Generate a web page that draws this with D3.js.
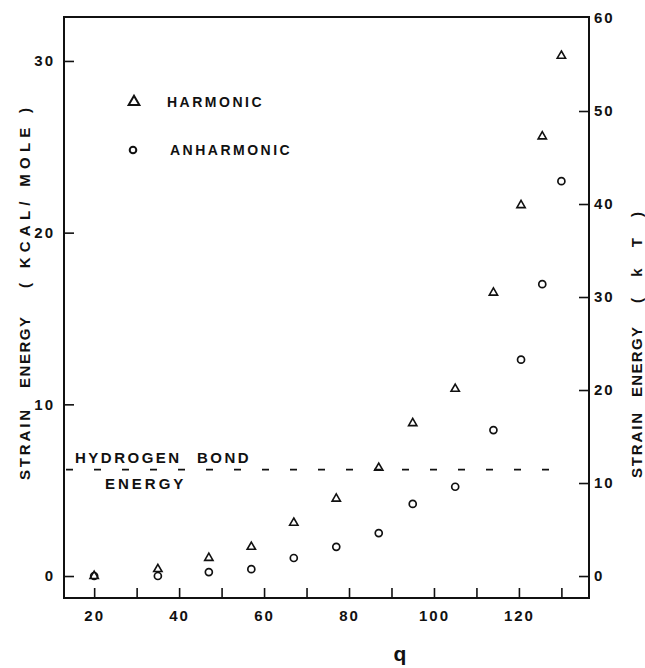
<!DOCTYPE html>
<html>
<head>
<meta charset="utf-8">
<script src="https://cdn.jsdelivr.net/npm/d3@7"></script>
<style>
    body{margin:0;background:#fff;}
    text{font-family:"Liberation Sans",Arial,sans-serif;font-weight:bold;fill:#111;}
</style>
</head>
<body>
<div id="chart"></div>
<script>
// values
const qValues = [20, 35, 47, 57, 67, 77, 87, 95, 105, 114, 120.5, 125.5, 130];
const harmonicEnergy = [0, 0.4, 1.05, 1.7, 3.1, 4.5, 6.3, 8.9, 10.9, 16.5, 21.6, 25.6, 30.3];
const anharmonicEnergy = [0, 0, 0.23, 0.4, 1.05, 1.7, 2.5, 4.2, 5.2, 8.5, 12.6, 17.0, 23.0];
const leftTicks = [0, 10, 20, 30];
const rightTicks = [0, 10, 20, 30, 40, 50, 60];
const bottomTicks = [20, 30, 40, 50, 60, 70, 80, 90, 100, 110, 120, 130];
const hbondEnergy = 6.2;
const hbondEnd = 128.5;

const width = 645, height = 668;
const margin = {top: 17, right: 56, bottom: 70, left: 64};
const plotW = width - margin.left - margin.right;
const plotH = height - margin.top - margin.bottom;

const svg = d3.select("#chart").append("svg")
    .attr("width", width)
    .attr("height", height);

const x = d3.scaleLinear().domain([12.9, 136.5]).range([margin.left, margin.left + plotW]);
const yLeft = d3.scaleLinear().domain([-1.28, 32.56]).range([margin.top + plotH, margin.top]);
const yRight = d3.scaleLinear().domain([0, 60]).range([yLeft(0), 18]);

// frame
svg.append("rect")
    .attr("x", margin.left)
    .attr("y", margin.top)
    .attr("width", plotW)
    .attr("height", plotH)
    .attr("fill", "none")
    .attr("stroke", "#111")
    .attr("stroke-width", 2);

const leftAxis = svg.append("g")
    .attr("transform", "translate(" + margin.left + ",0)")
    .call(d3.axisLeft(yLeft).tickValues(leftTicks).tickSize(-10).tickPadding(9).tickFormat(d3.format("d")));

const rightAxis = svg.append("g")
    .attr("transform", "translate(" + (margin.left + plotW) + ",0)")
    .call(d3.axisRight(yRight).tickValues(rightTicks).tickSize(-10).tickPadding(5).tickFormat(d3.format("d")));

const bottomAxis = svg.append("g")
    .attr("transform", "translate(0," + (margin.top + plotH) + ")")
    .call(d3.axisBottom(x).tickValues(bottomTicks).tickSize(-10).tickPadding(12)
        .tickFormat(d=>d % 20 === 0 && d <= 120 ? d : ""));

[leftAxis, rightAxis, bottomAxis].forEach(axis=>{
    axis.select(".domain").remove();
    axis.selectAll(".tick line").attr("stroke", "#111").attr("stroke-width", 1.6);
    axis.selectAll(".tick text")
        .attr("fill", "#111")
        .style("font-size", "15px")
        .style("letter-spacing", "2px")
        .style("font-family", "\"Liberation Sans\",Arial,sans-serif")
        .style("font-weight", "bold");
});
rightAxis.selectAll(".tick").filter(d=>d === 60).select("line").remove();

// axis titles, word by word (wide gaps between words in the original)
const titleWord = function(g, label, start, length){
    g.append("text")
        .attr("x", -start)
        .attr("textLength", length)
        .attr("lengthAdjust", "spacing")
        .attr("fill", "#111")
        .style("font-size", "15px")
        .text(label);
};
const leftTitle = svg.append("g").attr("transform", "translate(30,0) rotate(-90)");
titleWord(leftTitle, "STRAIN", 480, 70);
titleWord(leftTitle, "ENERGY", 388, 71);
titleWord(leftTitle, "( KCAL/ MOLE )", 288, 180);

const rightTitle = svg.append("g").attr("transform", "translate(642,0) rotate(-90)");
titleWord(rightTitle, "STRAIN", 478, 65);
titleWord(rightTitle, "ENERGY", 397, 70);
titleWord(rightTitle, "( k T )", 303, 91);

svg.append("text")
    .attr("x", 400)
    .attr("y", 661)
    .attr("text-anchor", "middle")
    .attr("fill", "#111")
    .style("font-size", "21px")
    .text("q");

// hydrogen bond energy reference
svg.append("line")
    .attr("x1", x(12.9) + 2)
    .attr("x2", x(hbondEnd))
    .attr("y1", yLeft(hbondEnergy))
    .attr("y2", yLeft(hbondEnergy))
    .attr("stroke", "#111")
    .attr("stroke-width", 1.6)
    .attr("stroke-dasharray", "7,21");

const note = function(label, xPos, dy, spacing){
    svg.append("text")
        .attr("x", xPos)
        .attr("y", yLeft(hbondEnergy) + dy)
        .attr("fill", "#111")
        .style("font-size", "15px")
        .style("letter-spacing", spacing + "px")
        .text(label);
};
note("HYDROGEN", 75, -7, 2.5);
note("BOND", 197, -7, 2.5);
note("ENERGY", 105, 19, 3);

// data
const triangle = d3.symbol(d3.symbolTriangle, 30);
const points = qValues.map((q,i)=>({q: q, harm: harmonicEnergy[i], anh: anharmonicEnergy[i]}));

svg.append("g").selectAll("circle")
    .data(points)
    .join("circle")
    .attr("cx", d=>x(d.q))
    .attr("cy", d=>yLeft(d.anh))
    .attr("r", 3.5)
    .attr("fill", "none")
    .attr("stroke", "#111")
    .attr("stroke-width", 1.7);

svg.append("g").selectAll("path")
    .data(points)
    .join("path")
    .attr("d", triangle)
    .attr("transform", d=>"translate(" + x(d.q) + "," + yLeft(d.harm) + ")")
    .attr("fill", "none")
    .attr("stroke", "#111")
    .attr("stroke-width", 1.6);

// legend
svg.append("path")
    .attr("d", d3.symbol(d3.symbolTriangle, 50)())
    .attr("transform", "translate(134,102)")
    .attr("fill", "none")
    .attr("stroke", "#111")
    .attr("stroke-width", 2);
svg.append("text")
    .attr("x", 167)
    .attr("y", 102)
    .attr("dy", "0.36em")
    .attr("fill", "#111")
    .style("font-size", "14px")
    .style("letter-spacing", "2.5px")
    .text("HARMONIC");

svg.append("circle")
    .attr("cx", 133)
    .attr("cy", 150)
    .attr("r", 3.3)
    .attr("fill", "none")
    .attr("stroke", "#111")
    .attr("stroke-width", 2);
svg.append("text")
    .attr("x", 170)
    .attr("y", 150)
    .attr("dy", "0.36em")
    .attr("fill", "#111")
    .style("font-size", "14px")
    .style("letter-spacing", "2.5px")
    .text("ANHARMONIC");
</script>
</body>
</html>
